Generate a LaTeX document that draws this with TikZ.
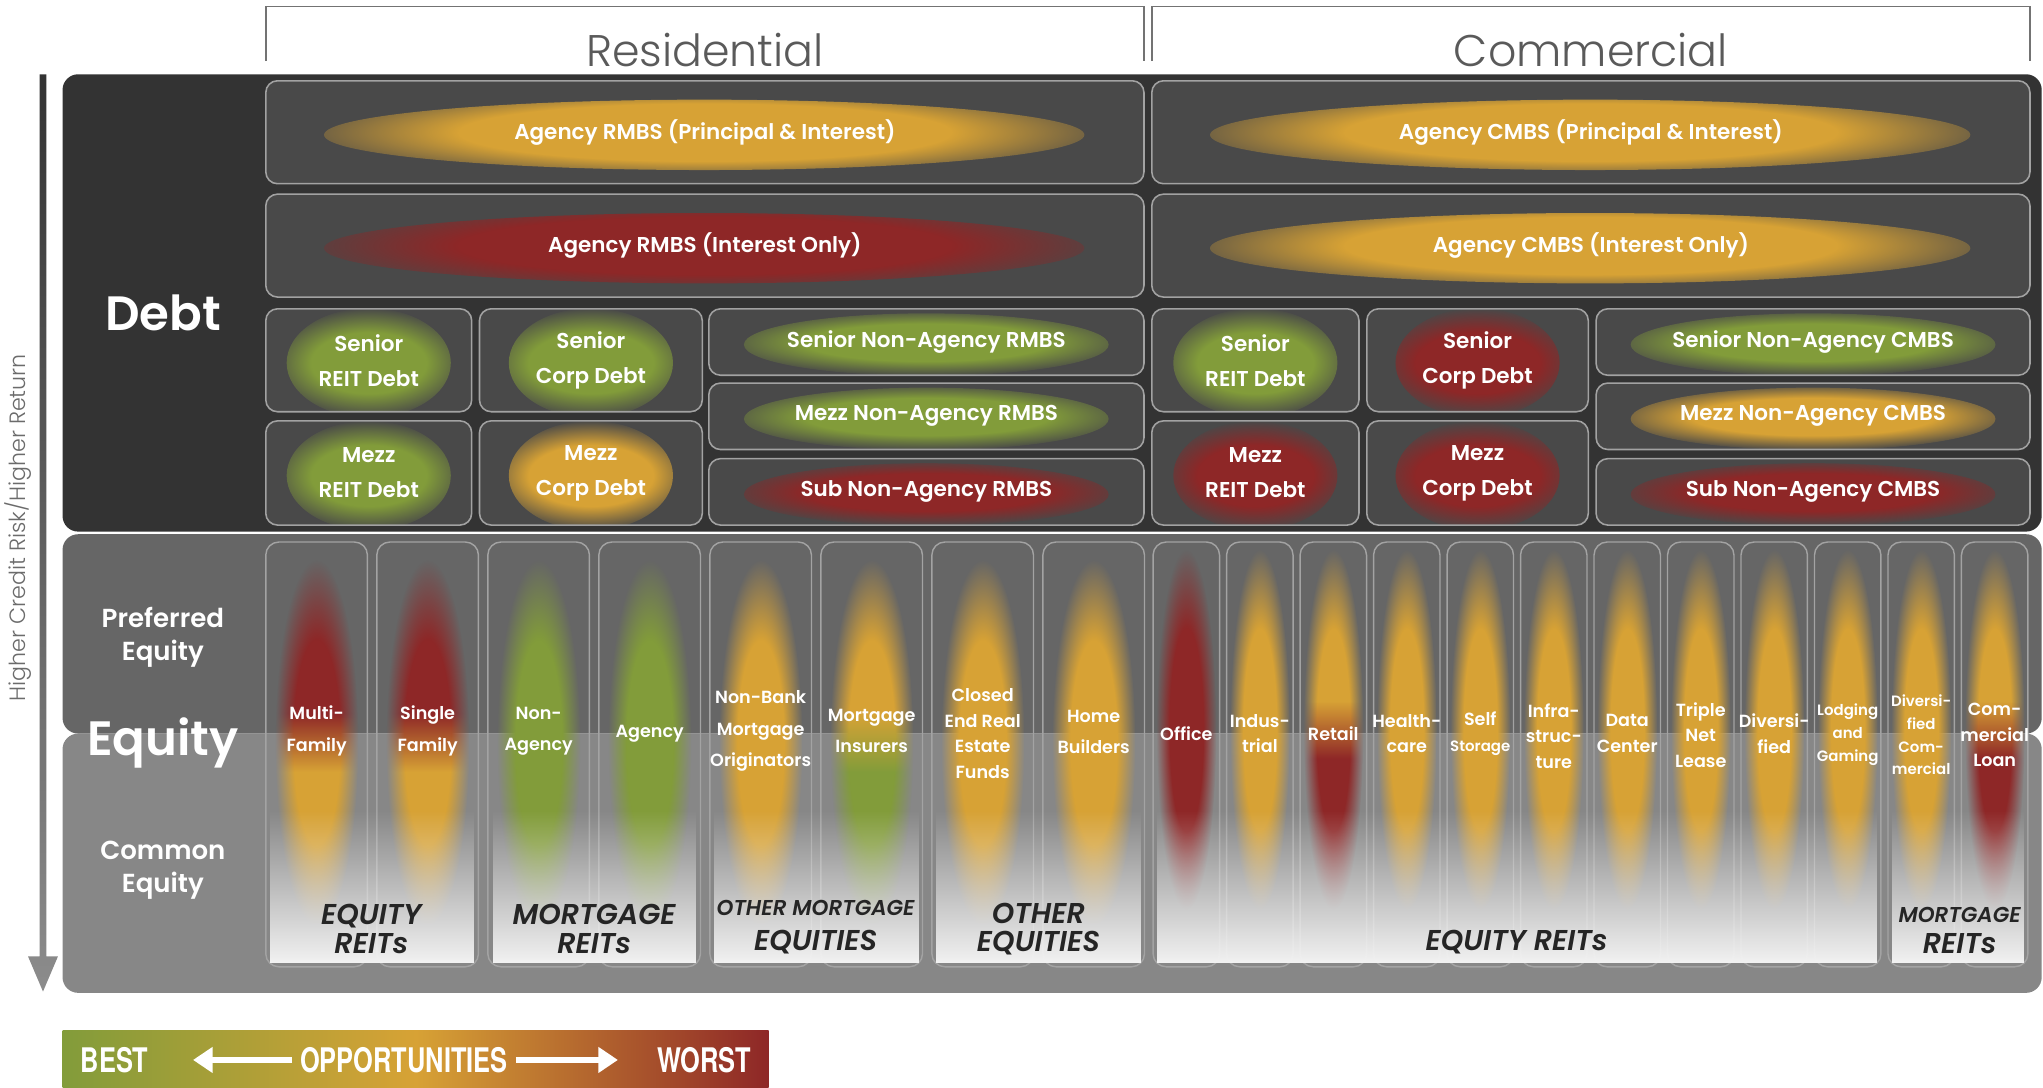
\documentclass[tikz,border=0pt]{standalone}
\usepackage{fontspec}
\setmainfont{Poppins}
\newfontfamily\lblfont{Poppins SemiBold}
\newfontfamily\headfont{Poppins Light}
\newfontfamily\grpfont{Poppins SemiBold Italic}
\newfontfamily\legfont{TeX Gyre Heros}[FakeStretch=0.75]
\usetikzlibrary{arrows.meta}
\usetikzlibrary{fadings}

\definecolor{debtbg}{HTML}{333333}
\definecolor{boxfill}{HTML}{494949}
\definecolor{boxline}{HTML}{A2A2A2}
\definecolor{prefbg}{HTML}{666666}
\definecolor{combg}{HTML}{878787}
\definecolor{colline}{HTML}{A3A3A3}
\definecolor{yel}{HTML}{D7A235}
\definecolor{grn}{HTML}{829C3A}
\definecolor{rd}{HTML}{8E2727}
\definecolor{headgray}{HTML}{5A5A5A}
\definecolor{arrtop}{HTML}{333333}
\definecolor{arrbot}{HTML}{8C8C8C}
\definecolor{grpink}{HTML}{252525}
\definecolor{bandwhite}{HTML}{F2F2F2}

\newcommand{\fsz}[2]{\fontsize{#1}{#2}\selectfont}

% soft spots (path box = inner 50bp of the 100bp shading)
\pgfdeclareradialshading{glowshade}{\pgfpointorigin}{color(0bp)=(white); color(14bp)=(white); color(25bp)=(black); color(50bp)=(black)}
\pgfdeclarefading{glow}{\pgfuseshading{glowshade}}
\tikzfading[name=bandfade, top color=transparent!100, bottom color=transparent!0]

\pgfdeclareverticalshading{redyel}{100bp}{color(0bp)=(yel); color(46bp)=(yel); color(54bp)=(rd); color(100bp)=(rd)}
\pgfdeclareverticalshading{yelgrn}{100bp}{color(0bp)=(grn); color(46bp)=(grn); color(54bp)=(yel); color(100bp)=(yel)}
\pgfdeclareverticalshading{yelred}{100bp}{color(0bp)=(rd); color(46bp)=(rd); color(54bp)=(yel); color(100bp)=(yel)}
\pgfdeclareverticalshading{allyel}{100bp}{color(0bp)=(yel); color(100bp)=(yel)}
\pgfdeclareverticalshading{allgrn}{100bp}{color(0bp)=(grn); color(100bp)=(grn)}
\pgfdeclareverticalshading{allred}{100bp}{color(0bp)=(rd); color(100bp)=(rd)}
\pgfdeclarehorizontalshading{oppbar}{100bp}{color(0bp)=(grn); color(25bp)=(grn); color(50bp)=(yel); color(75bp)=(rd); color(100bp)=(rd)}
\pgfdeclareverticalshading{riskbar}{100bp}{color(0bp)=(arrbot); color(25bp)=(arrbot); color(75bp)=(arrtop); color(100bp)=(arrtop)}

\tikzset{
  panel/.style={rounded corners=12pt},
  bracket/.style={draw=headgray!85, line width=1.4pt},
  headtxt/.style={text=headgray, font=\headfont\fsz{34}{40}, inner sep=0pt},
  sidetxt/.style={text=headgray!90, font=\headfont\fsz{17}{20}, inner sep=0pt},
  biglbl/.style={text=white, font=\lblfont\fsz{37}{44}, inner sep=0pt},
  seclbl/.style={text=white, font=\lblfont\fsz{20}{25}, align=center, inner sep=0pt},
  debtbox/.style={draw=boxline, line width=1.2pt, fill=boxfill, rounded corners=9pt, inner sep=0pt, outer sep=0pt, text=white, font=\lblfont\fsz{16.5}{27}, align=center},
  glowing/.style n args={3}{path picture={\fill[#1, path fading=glow] ([yshift=-2pt]path picture bounding box.center) ellipse (#2 and #3);}},
  colbox/.style={draw=colline, line width=1.1pt, rounded corners=10pt, minimum height=326, inner sep=0pt, outer sep=0pt},
  collbl/.style={text=white, font=\lblfont\fsz{13.5}{24}, align=center, inner sep=0pt},
  comlbl/.style={collbl, font=\lblfont\fsz{13.5}{19.5}},
  smlbl/.style={collbl, font=\lblfont\fsz{11.5}{17.5}},
  grplbl/.style={text=grpink, font=\grpfont\fsz{22}{22}, align=center, inner sep=0pt},
  legtxt/.style={text=white, font=\legfont\bfseries\fsz{26}{30}, inner sep=0pt},
  legarrow/.style={draw=white, line width=4pt, -{Triangle[length=15pt,width=19pt]}},
}

\begin{document}
\begin{tikzpicture}[x=1pt,y=-1pt]
\useasboundingbox (0,0) rectangle (1568,835);

% risk arrow
\shade[shading=riskbar] (30.5,57) -- (35.5,57) -- (35.5,734) -- (44.5,734) -- (33,761) -- (21.5,734) -- (30.5,734) -- cycle;
\node[sidetxt, rotate=90] (risk) at (14,405) {Higher Credit Risk/Higher Return};

% headers
\draw[bracket] (204,47) -- (204,5) -- (878,5) -- (878,47);
\draw[bracket] (884,47) -- (884,5) -- (1558,5) -- (1558,47);
\node[headtxt, anchor=base] (resi) at (541,51) {Residential};
\node[headtxt, anchor=base] (comm) at (1221,51) {Commercial};

% panels
\fill[debtbg, panel] (48,57) rectangle (1567,408);
\fill[prefbg, panel] (48,410) rectangle (1567,563);
\fill[combg, panel] (48,563) rectangle (1567,762);

\node[biglbl] (debt) at (125,240) {Debt};
\node[seclbl] (pref) at (125,489) {Preferred\\Equity};
\node[biglbl, anchor=base] (equity) at (125,580) {Equity};
\node[seclbl] (common) at (125,668) {Common\\Equity};

% debt, residential
\node[debtbox, glowing={yel}{292}{27}, minimum width=674, minimum height=79] (rmbsPI) at (541,101.5) {Agency RMBS (Principal \& Interest)};
\node[debtbox, glowing={rd}{292}{27}, minimum width=674, minimum height=79] (rmbsIO) at (541,188.5) {Agency RMBS (Interest Only)};
\node[debtbox, glowing={grn}{63}{42}, minimum width=158, minimum height=79] (rSrReit) at (283,276.5) {Senior\\REIT Debt};
\node[debtbox, glowing={grn}{63}{42}, minimum width=171, minimum height=79] (rSrCorp) at (453.5,276.5) {Senior\\Corp Debt};
\node[debtbox, glowing={grn}{63}{42}, minimum width=158, minimum height=80] (rMzReit) at (283,363) {Mezz\\REIT Debt};
\node[debtbox, glowing={yel}{63}{42}, minimum width=171, minimum height=80] (rMzCorp) at (453.5,363) {Mezz\\Corp Debt};
\node[debtbox, glowing={grn}{140}{24}, minimum width=334, minimum height=51] (rSrNon) at (711,262.5) {Senior Non-Agency RMBS};
\node[debtbox, glowing={grn}{140}{24}, minimum width=334, minimum height=51] (rMzNon) at (711,319.5) {Mezz Non-Agency RMBS};
\node[debtbox, glowing={rd}{140}{24}, minimum width=334, minimum height=51] (rSbNon) at (711,377.5) {Sub Non-Agency RMBS};

% debt, commercial
\node[debtbox, glowing={yel}{292}{27}, minimum width=674, minimum height=79] (cmbsPI) at (1221,101.5) {Agency CMBS (Principal \& Interest)};
\node[debtbox, glowing={yel}{292}{27}, minimum width=674, minimum height=79] (cmbsIO) at (1221,188.5) {Agency CMBS (Interest Only)};
\node[debtbox, glowing={grn}{63}{42}, minimum width=159, minimum height=79] (cSrReit) at (963.5,276.5) {Senior\\REIT Debt};
\node[debtbox, glowing={rd}{63}{42}, minimum width=170, minimum height=79] (cSrCorp) at (1134,276.5) {Senior\\Corp Debt};
\node[debtbox, glowing={rd}{63}{42}, minimum width=159, minimum height=80] (cMzReit) at (963.5,363) {Mezz\\REIT Debt};
\node[debtbox, glowing={rd}{63}{42}, minimum width=170, minimum height=80] (cMzCorp) at (1134,363) {Mezz\\Corp Debt};
\node[debtbox, glowing={grn}{140}{24}, minimum width=333, minimum height=51] (cSrNon) at (1391.5,262.5) {Senior Non-Agency CMBS};
\node[debtbox, glowing={yel}{140}{24}, minimum width=333, minimum height=51] (cMzNon) at (1391.5,319.5) {Mezz Non-Agency CMBS};
\node[debtbox, glowing={rd}{140}{24}, minimum width=333, minimum height=51] (cSbNon) at (1391.5,377.5) {Sub Non-Agency CMBS};

% equity columns
\foreach \i in {0,...,7}
  \node[colbox, minimum width=78] (r\i) at ({243+85.2*\i},579) {};
\foreach \i in {0,...,11}
  \node[colbox, minimum width=51] (c\i) at ({910.5+56.4*\i},579) {};

\foreach \i/\sh in {0/redyel,1/redyel,2/allgrn,3/allgrn,4/allyel,5/yelgrn,6/allyel,7/allyel}
  \shade[shading=\sh, path fading=glow] ([yshift=9pt]r\i.center) ellipse (32 and 140);
\foreach \i/\sh in {0/allred,1/allyel,2/yelred,3/allyel,4/allyel,5/allyel,6/allyel,7/allyel,8/allyel,9/allyel,10/allyel,11/yelred}
  \shade[shading=\sh, path fading=glow] ([yshift=19pt]c\i.center) ellipse (23 and 138);

% light bands behind the group names
\foreach \xa/\xb in {207/364,378/534,548/705,718/876,888/1441,1452/1553}
  \fill[bandwhite, path fading=bandfade] (\xa,622) rectangle (\xb,739);

% column names
\node[collbl] (rl0) at ([yshift=18pt]r0.center) {Multi-\\Family};
\node[collbl] (rl1) at ([yshift=18pt]r1.center) {Single\\Family};
\node[collbl] (rl2) at ([yshift=18pt]r2.center) {Non-\\Agency};
\node[collbl] (rl3) at ([yshift=16pt]r3.center) {Agency};
\node[collbl] (rl4) at ([yshift=18pt]r4.center) {Non-Bank\\Mortgage\\Originators};
\node[collbl] (rl5) at ([yshift=18pt]r5.center) {Mortgage\\Insurers};
\node[comlbl] (rl6) at ([yshift=16pt]r6.center) {Closed\\End Real\\Estate\\Funds};
\node[collbl] (rl7) at ([yshift=17pt]r7.center) {Home\\Builders};

\node[comlbl] (cl0) at ([yshift=16pt]c0.center) {Office};
\node[comlbl] (cl1) at ([yshift=16pt]c1.center) {Indus-\\trial};
\node[comlbl] (cl2) at ([yshift=16pt]c2.center) {Retail};
\node[comlbl] (cl3) at ([yshift=16pt]c3.center) {Health-\\care};
\node[comlbl] (cl4) at ([yshift=16pt]c4.center) {Self\\{\fsz{11.5}{19.5}Storage}};
\node[comlbl] (cl5) at ([yshift=14pt]c5.center) {Infra-\\struc-\\ture};
\node[comlbl] (cl6) at ([yshift=16pt]c6.center) {Data\\Center};
\node[comlbl] (cl7) at ([yshift=15pt]c7.center) {Triple\\Net\\Lease};
\node[comlbl] (cl8) at ([yshift=16pt]c8.center) {Diversi-\\fied};
\node[smlbl] (cl9) at ([yshift=15pt]c9.center) {Lodging\\and\\Gaming};
\node[smlbl] (cl10) at ([yshift=15pt]c10.center) {Diversi-\\fied\\Com-\\mercial};
\node[comlbl] (cl11) at ([yshift=15pt]c11.center) {Com-\\mercial\\Loan};

% group names
\node[grplbl] (gEqR) at (285,713) {EQUITY\\REITs};
\node[grplbl] (gMtgR) at (456,713) {MORTGAGE\\REITs};
\node[grplbl, font=\grpfont\fsz{16.5}{20}] (gOthM) at (626,697) {OTHER MORTGAGE};
\node[grplbl] (gOthMb) at (626,723) {EQUITIES};
\node[grplbl] (gOthE) at (797,713) {OTHER\\EQUITIES};
\node[grplbl] (gEqRc) at (1164,723) {EQUITY REITs};
\node[grplbl, font=\grpfont\fsz{16.5}{20}] (gMtgRc) at (1504,702) {MORTGAGE};
\node[grplbl] (gMtgRcb) at (1504,724) {REITs};

% legend
\shade[shading=oppbar] (48,791) rectangle (590,835);
\node[legtxt] (best) at (88,813.5) {BEST};
\node[legtxt] (opp) at (310,813.5) {OPPORTUNITIES};
\node[legtxt] (worst) at (540.5,813.5) {WORST};
\draw[legarrow, shorten <=6pt, shorten >=34pt] (opp.west) -- (best.east);
\draw[legarrow, shorten <=6pt, shorten >=30pt] (opp.east) -- (worst.west);
\end{tikzpicture}
\end{document}
